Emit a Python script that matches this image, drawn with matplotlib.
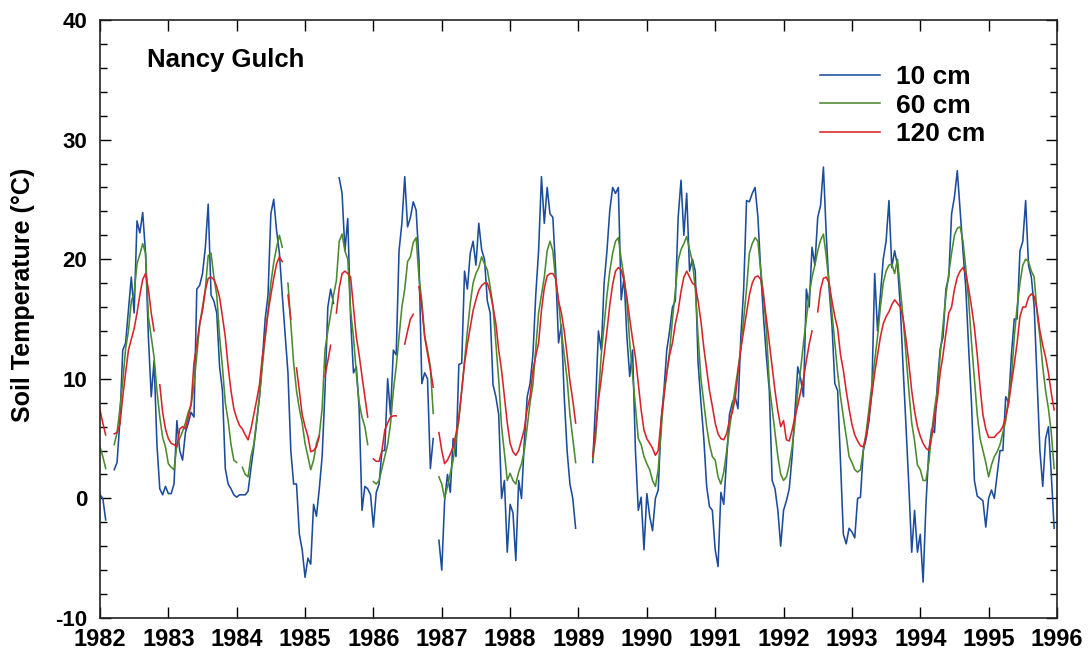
import numpy as np
import matplotlib
matplotlib.use("Agg")
import matplotlib.pyplot as plt
from matplotlib.ticker import MultipleLocator

nan = np.nan

# half-monthly soil temperatures (deg C), 24 readings per year, 1982-1995
first_year = 1982
steps_per_year = 24
years = list(range(1982, 1997))

temp_10cm = [
    0.3, 0.0, -1.8, nan, nan, 2.4, 3.0, 6.5, 12.4, 13.0, 15.7, 18.5, 15.5, 23.2, 22.2, 23.9, 20.5, 13.5, 8.5, 11.5, 4.5, 0.8, 0.3, 1.0,  # 1982
    0.4, 0.4, 1.2, 6.5, 4.0, 3.2, 5.5, 6.3, 7.2, 6.8, 17.5, 17.8, 18.8, 21.0, 24.6, 17.0, 16.5, 15.5, 11.0, 9.0, 2.5, 1.2, 0.8, 0.3,  # 1983
    0.1, 0.3, 0.3, 0.3, 0.6, 2.5, 4.3, 6.3, 8.5, 11.5, 15.0, 17.0, 23.8, 25.0, 22.4, 20.5, 17.0, 13.8, 10.5, 4.0, 1.2, 1.2, -3.0, -4.3,  # 1984
    -6.6, -5.0, -5.5, -0.5, -1.5, 0.8, 3.5, 9.0, 16.0, 17.5, 16.3, nan, 26.8, 25.5, 20.7, 23.4, 15.0, 10.5, 11.0, 7.5, -1.0, 1.0, 0.8, 0.3,  # 1985
    -2.4, 0.5, 1.2, 4.0, 4.0, 10.0, 7.0, 12.4, 12.0, 20.7, 23.0, 26.9, 22.7, 23.5, 24.8, 24.1, 19.9, 9.6, 10.5, 10.0, 2.5, 5.0, nan, -3.5,  # 1986
    -6.0, -0.2, 2.0, 0.5, 5.0, 3.5, 11.2, 11.3, 19.0, 17.5, 20.5, 21.5, 19.5, 23.0, 20.8, 20.0, 16.5, 15.5, 9.5, 8.5, 7.0, 0.0, 1.5, -4.5,  # 1987
    -0.5, -1.2, -5.2, 1.5, 0.0, 4.8, 8.5, 9.6, 12.0, 17.0, 20.7, 26.9, 23.0, 26.0, 23.8, 23.5, 19.0, 13.0, 14.5, 8.5, 4.0, 1.2, 0.0, -2.5,  # 1988
    nan, nan, nan, nan, nan, 3.0, 7.9, 14.0, 12.4, 18.0, 20.7, 24.1, 26.0, 25.5, 26.0, 16.6, 18.5, 13.5, 10.2, 12.4, 4.0, -1.0, 0.1, -4.3,  # 1989
    0.4, -1.5, -2.7, 0.0, 0.7, 6.5, 9.0, 12.4, 14.0, 16.0, 16.5, 23.5, 26.6, 22.0, 25.5, 19.0, 20.0, 19.0, 11.3, 8.0, 5.0, 1.0, -0.7, -1.0,  # 1990
    -4.3, -5.7, 0.5, -0.5, 3.2, 7.0, 8.0, 8.5, 7.5, 13.5, 17.5, 24.9, 24.8, 25.5, 26.0, 23.5, 19.0, 15.0, 11.8, 9.0, 1.5, 0.8, -1.0, -4.0,  # 1991
    -1.0, -0.2, 0.8, 3.5, 7.2, 11.0, 10.0, 8.5, 17.5, 16.0, 21.0, 19.5, 23.5, 24.5, 27.7, 22.0, 17.5, 14.5, 9.6, 9.0, 3.0, -3.0, -3.8, -2.5,  # 1992
    -2.8, -3.3, 0.0, 0.1, 4.0, 5.0, 6.5, 9.0, 18.8, 14.0, 17.0, 20.0, 21.5, 24.9, 19.3, 20.7, 19.5, 16.0, 10.8, 6.0, 1.0, -4.5, -1.0, -4.5,  # 1993
    -3.0, -7.0, -0.5, 4.0, 5.8, 5.5, 9.6, 12.5, 13.5, 17.5, 18.5, 23.8, 25.2, 27.4, 24.0, 20.7, 17.5, 12.5, 7.9, 1.5, 0.2, 0.0, -0.2, -2.4,  # 1994
    0.0, 0.7, 0.0, 2.0, 4.0, 4.0, 8.5, 8.0, 12.0, 15.0, 15.0, 20.7, 21.5, 24.9, 19.5, 18.5, 16.0, 10.0, 4.0, 1.0, 5.0, 6.0, 2.0, -2.5,  # 1995
]

temp_60cm = [
    4.3, 3.5, 2.5, nan, nan, 4.5, 5.5, 7.5, 9.8, 12.5, 14.0, 16.5, 17.2, 19.6, 20.4, 21.3, 20.5, 15.2, 13.5, 11.8, 9.0, 6.8, 5.1, 4.3,  # 1982
    2.9, 2.6, 2.4, 4.5, 5.0, 5.6, 6.3, 7.2, 7.8, 9.5, 12.0, 14.5, 16.0, 17.5, 20.3, 20.5, 18.5, 17.0, 13.5, 11.0, 8.0, 6.5, 4.5, 3.2,  # 1983
    3.0, nan, 2.6, 2.0, 1.8, 3.5, 4.5, 6.5, 8.5, 11.0, 13.5, 15.7, 18.0, 19.7, 21.0, 22.0, 21.0, nan, 18.0, 14.6, 11.3, 9.0, 7.5, 6.3,  # 1984
    4.6, 3.5, 2.4, 3.2, 4.6, 5.3, 7.5, 12.4, 14.0, 15.4, 17.0, 18.2, 21.5, 22.1, 20.7, 20.0, 15.7, 13.5, 10.5, 8.0, 6.8, 6.0, 4.5, nan,  # 1985
    1.4, 1.2, 1.5, 2.5, 3.5, 4.5, 6.2, 9.0, 11.0, 13.5, 16.0, 17.5, 19.8, 20.2, 21.4, 21.8, 18.5, 16.5, 13.6, 12.4, 11.0, 7.1, nan, 1.8,  # 1986
    1.2, 0.0, 1.0, 2.1, 3.2, 4.9, 6.5, 9.0, 11.5, 14.0, 16.3, 18.0, 18.8, 19.3, 20.2, 19.6, 19.1, 17.7, 16.0, 12.9, 9.9, 6.0, 3.8, 1.5,  # 1987
    2.1, 1.5, 1.2, 2.2, 2.9, 4.0, 6.0, 8.0, 9.5, 12.5, 15.5, 17.0, 18.5, 20.7, 21.5, 20.7, 18.2, 16.5, 14.0, 12.0, 10.0, 7.0, 5.0, 3.0,  # 1988
    nan, nan, nan, nan, nan, 3.2, 5.0, 8.5, 12.0, 14.5, 17.0, 19.0, 20.5, 21.5, 21.8, 20.0, 18.5, 16.5, 13.0, 10.3, 7.5, 5.0, 4.5, 3.5,  # 1989
    2.9, 2.4, 1.5, 1.0, 2.4, 5.5, 8.8, 10.5, 12.3, 15.0, 17.3, 19.9, 20.8, 21.3, 21.9, 20.8, 19.8, 17.6, 13.5, 10.0, 8.0, 6.0, 4.5, 3.5,  # 1990
    3.2, 1.8, 1.2, 2.2, 3.9, 5.8, 7.5, 9.2, 10.8, 12.5, 15.0, 17.5, 20.5, 21.3, 21.8, 21.5, 19.0, 17.0, 14.0, 9.5, 7.5, 5.5, 3.5, 2.0,  # 1991
    1.5, 1.8, 2.8, 4.3, 6.3, 9.0, 10.8, 13.0, 15.0, 17.0, 18.5, 19.5, 20.7, 21.6, 22.1, 20.2, 18.0, 15.5, 13.0, 10.5, 8.5, 6.8, 5.2, 3.5,  # 1992
    3.0, 2.4, 2.2, 2.4, 4.0, 5.5, 7.5, 9.5, 11.5, 13.5, 16.0, 18.0, 19.0, 19.5, 19.6, 18.8, 20.0, 17.5, 15.0, 12.0, 9.0, 6.3, 4.8, 2.8,  # 1993
    2.4, 1.5, 1.5, 3.0, 5.5, 7.5, 9.0, 12.0, 14.5, 17.0, 18.8, 20.5, 22.0, 22.6, 22.7, 21.5, 19.2, 16.5, 13.0, 10.0, 7.0, 5.0, 4.0, 3.0,  # 1994
    1.8, 2.8, 3.5, 3.9, 4.5, 5.5, 6.5, 8.5, 10.0, 13.5, 16.0, 18.0, 19.5, 20.0, 19.8, 19.0, 18.5, 15.5, 13.5, 11.0, 9.0, 7.5, 5.5, 2.5,  # 1995
]

temp_120cm = [
    7.4, 6.3, 5.3, nan, nan, 5.4, 5.5, 6.2, 8.5, 10.5, 12.4, 13.3, 14.2, 15.5, 17.0, 18.3, 18.8, 17.5, 15.5, 14.0, nan, 9.5, 7.2, 5.8,  # 1982
    5.0, 4.6, 4.5, 4.3, 5.8, 6.0, 5.8, 6.8, 7.9, 11.3, 12.9, 14.6, 15.7, 17.4, 18.4, 18.5, 18.3, 17.7, 16.8, 15.2, 13.5, 11.0, 9.0, 7.5,  # 1983
    6.7, 6.1, 5.8, 5.3, 4.9, 5.8, 7.0, 8.2, 9.5, 11.8, 13.5, 15.5, 17.0, 18.4, 19.6, 20.2, 19.8, nan, 17.0, 15.0, nan, 10.9, 9.0, 7.0,  # 1984
    6.0, 5.2, 3.9, 4.0, 4.3, 5.2, nan, 10.2, 11.5, 12.8, nan, 15.5, 17.6, 18.8, 19.0, 18.8, 18.5, 16.0, 13.5, 12.0, 10.2, 8.5, 6.8, nan,  # 1985
    3.3, 3.1, 3.1, 4.0, 5.7, 6.3, 6.8, 6.9, 6.9, nan, nan, 12.9, 14.0, 15.0, 15.4, nan, 17.7, 16.0, 13.5, 12.1, 10.8, 9.3, nan, 5.5,  # 1986
    4.0, 2.9, 3.2, 3.7, 4.3, 5.4, 6.8, 9.0, 11.3, 12.9, 14.3, 15.7, 16.6, 17.4, 17.8, 18.0, 18.0, 17.2, 16.0, 14.6, 12.4, 10.7, 8.5, 6.3,  # 1987
    4.6, 3.9, 3.6, 4.0, 4.9, 5.8, 7.5, 8.5, 10.7, 11.9, 13.0, 15.7, 17.6, 18.6, 18.8, 18.8, 18.4, 16.5, 15.5, 14.0, 12.0, 9.8, 8.2, 6.3,  # 1988
    nan, nan, nan, nan, nan, 3.5, 5.7, 8.2, 10.0, 12.0, 14.0, 16.2, 17.9, 19.0, 19.3, 19.1, 18.2, 16.8, 15.0, 13.3, 11.8, 9.6, 7.4, 5.7,  # 1989
    5.0, 4.6, 4.2, 3.6, 4.0, 6.5, 8.5, 10.5, 12.0, 13.0, 14.6, 15.7, 17.3, 18.5, 19.0, 18.5, 18.0, 17.8, 16.5, 14.8, 12.6, 10.8, 9.0, 7.7,  # 1990
    6.3, 5.4, 5.0, 4.9, 5.4, 6.5, 7.2, 8.3, 10.5, 12.5, 14.0, 15.5, 17.0, 18.0, 18.5, 18.6, 18.3, 16.8, 15.0, 13.0, 11.0, 9.0, 7.3, 6.0,  # 1991
    6.5, 4.9, 4.8, 5.7, 6.8, 7.8, 8.9, 10.0, 11.5, 12.9, 14.0, nan, 15.6, 17.5, 18.4, 18.5, 18.0, 16.5, 15.2, 14.2, 12.0, 10.7, 9.0, 7.5,  # 1992
    6.2, 5.3, 4.8, 4.4, 4.3, 5.2, 6.8, 8.7, 10.5, 12.0, 13.5, 14.6, 15.2, 15.6, 16.2, 16.6, 16.3, 16.0, 15.0, 13.3, 11.3, 9.0, 7.3, 6.0,  # 1993
    5.2, 4.6, 4.2, 4.0, 5.1, 6.8, 8.3, 10.5, 12.0, 13.8, 15.5, 16.0, 17.5, 18.5, 19.0, 19.3, 18.8, 17.5, 16.0, 14.3, 12.0, 9.3, 7.0, 5.8,  # 1994
    5.1, 5.1, 5.1, 5.4, 5.6, 6.0, 6.8, 7.9, 9.6, 11.2, 13.0, 15.2, 16.0, 16.0, 16.8, 17.1, 16.9, 15.8, 14.0, 12.8, 11.8, 10.5, 8.8, 7.4,  # 1995
]

depth_labels = ["10 cm", "60 cm", "120 cm"]
colors = ["#1c4c9c", "#4b8a2f", "#d8232a"]

plt.rcParams["font.family"] = ["Liberation Sans", "DejaVu Sans"]
plt.rcParams["font.weight"] = "bold"
plt.rcParams["axes.unicode_minus"] = False

fig = plt.figure(figsize=(10.89, 6.49), dpi=100)
ax = fig.add_axes([0.0918, 0.0478, 0.8788, 0.9214])

t = first_year + np.arange(len(temp_10cm)) / steps_per_year
for series, label, color in zip([temp_10cm, temp_60cm, temp_120cm], depth_labels, colors):
    ax.plot(t, series, color=color, linewidth=1.15, label=label)

ax.set_xlim(1982, 1996)
ax.set_ylim(-10, 40)
ax.set_xticks(years)
ax.set_xticklabels([str(y) for y in years])
ax.yaxis.set_major_locator(MultipleLocator(10))
ax.yaxis.set_minor_locator(MultipleLocator(2))
ax.tick_params(axis="both", which="both", direction="in", top=True, right=True, width=1.0)
ax.tick_params(axis="both", which="major", length=8)
ax.tick_params(axis="both", which="minor", length=5)
ax.tick_params(axis="y", pad=9, labelsize=16)
ax.tick_params(axis="x", pad=7, labelsize=17)
for lab in ax.get_xticklabels() + ax.get_yticklabels():
    lab.set_fontweight("bold")
for spine in ax.spines.values():
    spine.set_linewidth(1.2)
    spine.set_color("#222222")

fig.text(0.021, 0.545, "Soil Temperature (\u00b0C)", rotation=90, fontsize=18,
         fontweight="bold", ha="center", va="center")
ax.text(0.049, 0.933, "Nancy Gulch", transform=ax.transAxes, fontsize=18.5,
        fontweight="bold", va="center", ha="left")

leg = ax.legend(loc="upper left", bbox_to_anchor=(0.752, 0.925), frameon=False,
                fontsize=19, handlelength=2.27, handletextpad=0.62, labelspacing=0.18,
                borderpad=0, borderaxespad=0)
for txt in leg.get_texts():
    txt.set_fontweight("bold")

fig.savefig("out.png", dpi=100)
